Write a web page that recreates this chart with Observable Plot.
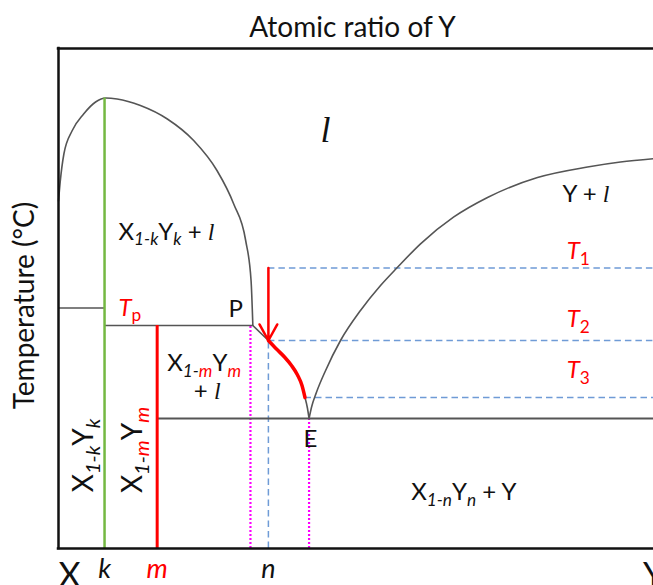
<!DOCTYPE html>
<html>
<head>
<meta charset="utf-8">
<script src="https://cdn.jsdelivr.net/npm/d3@7"></script>
<script src="https://cdn.jsdelivr.net/npm/@observablehq/plot@0.6"></script>
<style>
  html, body { margin: 0; padding: 0; background: #fff; overflow: hidden; }
</style>
</head>
<body>
<div id="chart"></div>
<script>
// Compositions (atomic ratio of Y) and temperature levels of the X–Y system
const k = 0.077, m = 0.165, n = 0.351;
const xP = 0.325, xPdot = 0.321, xE = 0.419, xT3 = 0.4122;
const tTop = 90.1, tLevelP = 48.1, tPeri = 44.6, tEut = 26.0;
const t1 = 56.1, t2 = 41.6, t3 = 30.2;

// Liquidus of the X-rich dome, from pure X to the peritectic point P
const dome = [
  [0.0, 69.5], [0.003, 73.5], [0.009, 78.9], [0.023, 83.6], [0.042, 86.9],
  [0.062, 89.3], [0.079, 90.1], [0.098, 89.9], [0.137, 88.6], [0.182, 85.9],
  [0.226, 81.6], [0.265, 75.6], [0.293, 68.9], [0.313, 61.6], [0.322, 53.6],
  [0.325, 44.6]
];
// Liquidus from P down to the eutectic E (segment followed on cooling in red)
const liqHead = [[xP, tPeri], [n, t2]];
const liqPath = [
  [n, t2], [0.3645, 39.9], [0.3779, 38.3], [0.3896, 36.6], [0.3997, 34.7],
  [0.4072, 32.6], [xT3, t3]
];
const liqTail = [[xT3, t3], [0.4164, 28.0], [xE, tEut]];
// Liquidus of Y, from E up to pure Y
const liqY = [
  [xE, 26.0], [0.4231, 28.24], [0.4314, 31.24], [0.4465, 35.56], [0.4716, 41.6],
  [0.505, 47.6], [0.5385, 52.6], [0.5661, 56.14], [0.6054, 60.94], [0.6605, 66.26],
  [0.7174, 70.2], [0.801, 74.2], [0.8846, 76.3], [0.9398, 77.3], [1.0, 78.0]
];

// Text pieces: [text, style]
const regionLabels = [
  {x: 0.1003, y: 61.8, parts: [["X"], ["1-k", "sub"], ["Y"], ["k", "sub"], [" + "], ["l", "math"]]},
  {x: 0.8428, y: 69.3, parts: [["Y + "], ["l", "math"]]},
  {x: 0.2843, y: 46.3, parts: [["P"]]},
  {x: 0.1817, y: 35.5, parts: [["X"], ["1-", "sub"], ["m", "subRed"], ["Y"], ["m", "subRed"]]},
  {x: 0.2263, y: 29.9, parts: [["+ "], ["l", "math"]]},
  {x: 0.5898, y: 9.7, parts: [["X"], ["1-n", "sub"], ["Y"], ["n", "sub"], [" + Y"]]},
  {x: 0.1003, y: 46.6, parts: [["T", "red"], ["p", "subRedUp"]]},
  {x: 0.8498, y: 57.9, parts: [["T", "red"], ["1", "subRedUp"]]},
  {x: 0.8498, y: 44.3, parts: [["T", "red"], ["2", "subRedUp"]]},
  {x: 0.8498, y: 34.1, parts: [["T", "red"], ["3", "subRedUp"]]}
];
const pointLabels = [{x: 0.4214, y: 20.3, parts: [["E"]]}];
const phaseLabels = [
  {x: 0.0435, y: 18.6, parts: [["X"], ["1-k", "sub"], ["Y"], ["k", "sub"]]},
  {x: 0.1254, y: 19.7, parts: [["X"], ["1-", "sub"], ["m", "subRed"], ["Y"], ["m", "subRed"]]}
];
const liquidLabel = [{x: 0.4465, y: 81.4, text: "l"}];

const endTicks = [{x: 0, text: "X"}, {x: 1, text: "Y"}];
const compTicks = [{x: k, text: "k"}, {x: n, text: "n"}];
const redTicks = [{x: m, text: "m"}];

const titleText = "Atomic ratio of Y";
const yTitleText = "Temperature (°C)";

const red = "#ff0000", gray = "#555555", green = "#74b842";
const magenta = "#ff00ff", blue = "#6f9bd6", ink = "#111111";
const sans = "Lato, 'Open Sans', sans-serif";
const serif = "'Liberation Serif', 'DejaVu Serif', serif";

const partStyles = {
  plain: {},
  sub: {sub: true, italic: true},
  subRed: {sub: true, italic: true, fill: red},
  subRedUp: {sub: true, fill: red},
  red: {italic: true, fill: red},
  math: {italic: true, family: serif}
};

const joinParts = d => d.parts.map(p => p[0]).join("");
const pairX = d => d[0], pairY = d => d[1];

const chart = Plot.plot({
  width: 653,
  height: 585,
  x: {domain: [0, 1], range: [58, 656], axis: null},
  y: {domain: [0, 100], range: [548, 48], axis: null},
  style: {fontFamily: sans, color: ink, background: "#fff", overflow: "visible"},
  marks: [
    // guide lines for the cooling path
    Plot.ruleY([t1, t2], {x1: n, x2: 1, stroke: blue, strokeWidth: 1.5, strokeDasharray: "6.5,4"}),
    Plot.ruleY([t3], {x1: xT3, x2: 1, stroke: blue, strokeWidth: 1.5, strokeDasharray: "6.5,4"}),
    Plot.ruleX([n], {y1: 0, y2: t2, stroke: blue, strokeWidth: 1.5, strokeDasharray: "6.5,4"}),
    Plot.ruleX([xPdot], {y1: 0, y2: tPeri, stroke: magenta, strokeWidth: 2.2, strokeDasharray: "2,2"}),
    Plot.ruleX([xE], {y1: 0, y2: tEut, stroke: magenta, strokeWidth: 2.2, strokeDasharray: "2,2"}),

    // isotherms
    Plot.ruleY([tLevelP], {x1: 0, x2: k, stroke: gray, strokeWidth: 1.4}),
    Plot.ruleY([tPeri], {x1: k, x2: xP, stroke: gray, strokeWidth: 1.6}),
    Plot.ruleY([tEut], {x1: m, x2: 1, stroke: gray, strokeWidth: 2}),

    // liquidus curves
    Plot.line(dome, {x: pairX, y: pairY, curve: "monotone-x", stroke: gray, strokeWidth: 1.6}),
    Plot.line(liqHead, {x: pairX, y: pairY, stroke: gray, strokeWidth: 1.6}),
    Plot.line(liqTail, {x: pairX, y: pairY, curve: "monotone-x", stroke: gray, strokeWidth: 1.6}),
    Plot.line(liqY, {x: pairX, y: pairY, curve: "monotone-x", stroke: gray, strokeWidth: 1.6}),

    // compounds
    Plot.ruleX([k], {y1: 0, y2: tTop, stroke: green, strokeWidth: 2.5}),
    Plot.ruleX([m], {y1: 0, y2: tPeri, stroke: red, strokeWidth: 3}),

    // cooling path
    Plot.line(liqPath, {x: pairX, y: pairY, curve: "monotone-x", stroke: red, strokeWidth: 3.5}),
    Plot.arrow([{x1: n, y1: t1, x2: n, y2: t2}], {
      x1: "x1", y1: "y1", x2: "x2", y2: "y2",
      stroke: red, strokeWidth: 2.5, headLength: 11, headAngle: 58
    }),

    // frame
    Plot.ruleY([0, 100], {x1: 0, x2: 1, stroke: ink, strokeWidth: 2.5, strokeLinecap: "square"}),
    Plot.ruleX([0], {y1: 0, y2: 100, stroke: ink, strokeWidth: 2.5, strokeLinecap: "square"}),

    // labels
    Plot.text(regionLabels, {x: "x", y: "y", text: joinParts, textAnchor: "start", lineAnchor: "bottom",
      fontSize: 24, fill: ink}),
    Plot.text(pointLabels, {x: "x", y: "y", text: joinParts, textAnchor: "middle", lineAnchor: "bottom",
      fontSize: 24, fill: ink}),
    Plot.text(phaseLabels, {x: "x", y: "y", text: joinParts, rotate: -90, textAnchor: "middle",
      lineAnchor: "middle", fontSize: 28, fill: ink}),
    Plot.text(liquidLabel, {x: "x", y: "y", text: "text", textAnchor: "middle", lineAnchor: "bottom",
      fontSize: 36, fontStyle: "italic", fontFamily: serif, fill: ink}),

    // composition axis
    Plot.text(endTicks.slice(0, 1), {x: "x", y: -7.6, text: "text", textAnchor: "start", lineAnchor: "bottom",
      fontSize: 34, fill: ink}),
    Plot.text(endTicks.slice(1), {x: "x", y: -7.6, text: "text", textAnchor: "middle", dx: -3, lineAnchor: "bottom",
      fontSize: 34, fill: ink}),
    Plot.text(compTicks, {x: "x", y: -5.8, text: "text", textAnchor: "middle", lineAnchor: "bottom",
      fontSize: 27, fontStyle: "italic", fill: ink}),
    Plot.text(redTicks, {x: "x", y: -5.8, text: "text", textAnchor: "middle", lineAnchor: "bottom",
      fontSize: 27, fontStyle: "italic", fill: red}),

    // titles
    Plot.text([titleText], {x: 0.5, y: 102.4, text: d => d, textAnchor: "middle", lineAnchor: "bottom",
      fontSize: 28, dx: -5, fill: ink}),
    Plot.text([yTitleText], {x: -0.0413, y: 48.6, text: d => d, rotate: -90, textAnchor: "middle",
      lineAnchor: "bottom", fontSize: 28, fill: ink})
  ]
});

document.getElementById("chart").append(chart);

// Rebuild labelled texts with subscripts, italics and coloured pieces;
// each row claims the first unclaimed text element that carries its string
function richText(svg, rows, size) {
  const drop = size * 0.24;
  const all = Array.from(svg.querySelectorAll("text"));
  for (const row of rows) {
    const str = joinParts(row);
    const node = all.find(t => !t.dataset.rich && t.textContent === str);
    if (!node) continue;
    node.dataset.rich = "1";
    node.textContent = "";
    let shift = 0;
    for (const [t, kind] of row.parts) {
      const s = partStyles[kind || "plain"];
      const ts = document.createElementNS("http://www.w3.org/2000/svg", "tspan");
      const want = s.sub ? drop : 0;
      if (want !== shift) { ts.setAttribute("dy", want - shift); shift = want; }
      if (s.sub) ts.setAttribute("font-size", size * 0.72);
      if (s.italic) ts.setAttribute("font-style", "italic");
      if (s.family) ts.setAttribute("font-family", s.family);
      if (s.fill) ts.setAttribute("fill", s.fill);
      ts.textContent = t;
      node.appendChild(ts);
    }
  }
}
richText(chart, regionLabels, 24);
richText(chart, pointLabels, 24);
richText(chart, phaseLabels, 28);
</script>
</body>
</html>
